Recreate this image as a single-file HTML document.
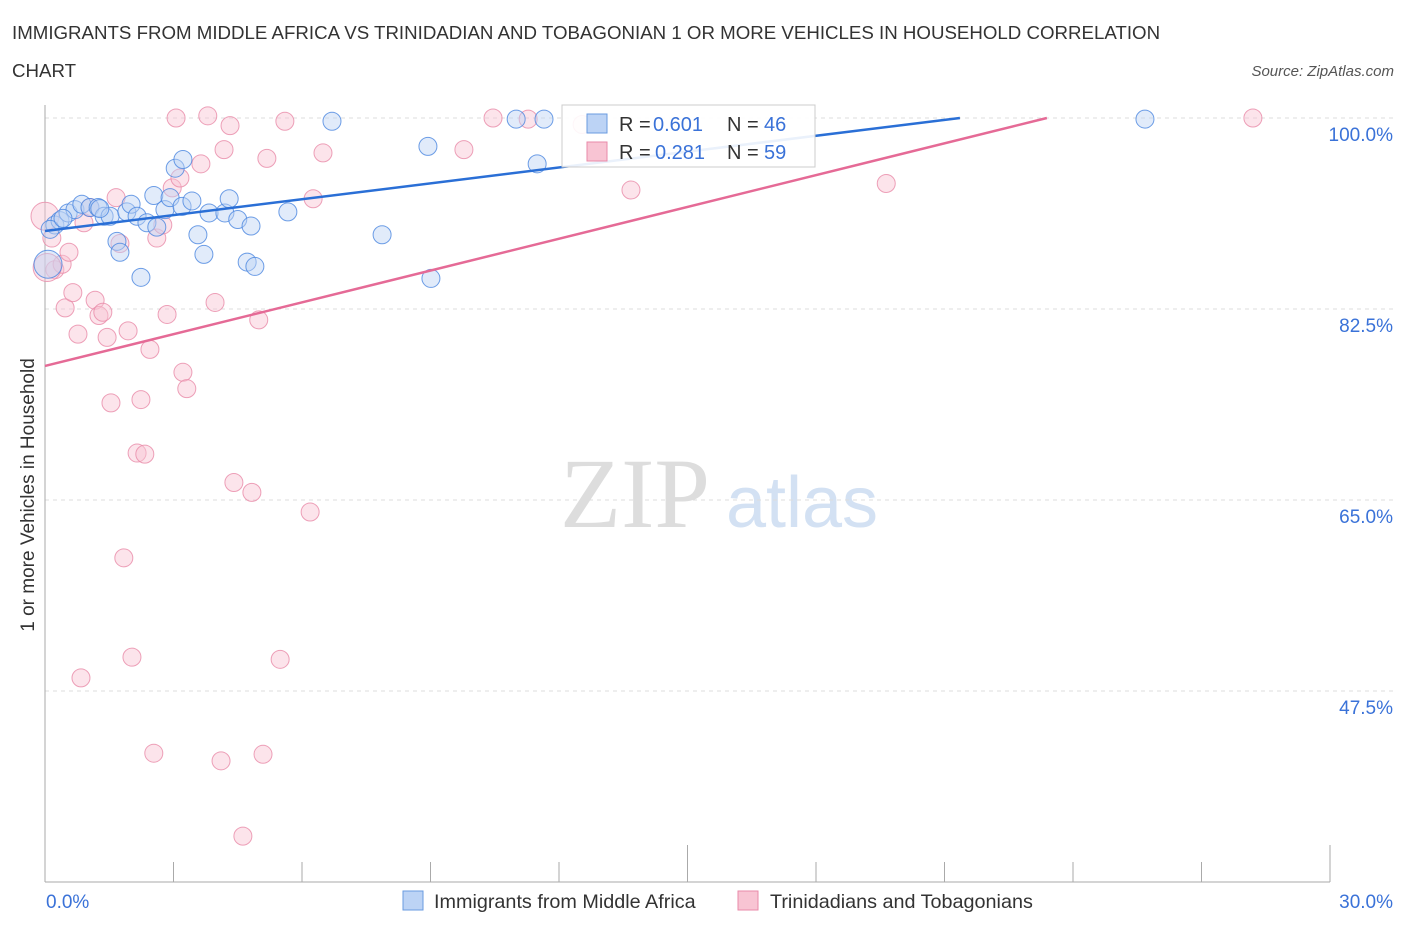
<!DOCTYPE html>
<html><head><meta charset="utf-8"><style>
body{margin:0;background:#fff;font-family:"Liberation Sans",sans-serif}
</style></head><body>
<svg id="c" width="1406" height="930" xmlns="http://www.w3.org/2000/svg" font-family="Liberation Sans, sans-serif">
<text x="12" y="39" font-size="18.7" fill="#333">IMMIGRANTS FROM MIDDLE AFRICA VS TRINIDADIAN AND TOBAGONIAN 1 OR MORE VEHICLES IN HOUSEHOLD CORRELATION</text>
<text x="12" y="77" font-size="18.7" fill="#333">CHART</text>
<text x="1394" y="76" font-size="15" font-style="italic" fill="#555" text-anchor="end">Source: ZipAtlas.com</text>
<text x="635" y="527" font-size="100" font-family="Liberation Serif, serif" fill="#ddd" text-anchor="middle">ZIP</text>
<text x="802" y="527" font-size="72" fill="#d3e1f3" text-anchor="middle">atlas</text>
<text transform="translate(34,495) rotate(-90)" font-size="19" fill="#333" text-anchor="middle">1 or more Vehicles in Household</text>
<g id="grid"></g><g id="pts"></g><g id="lines"></g>
<g>
<rect x="562" y="105" width="253" height="62" fill="#fff" fill-opacity="0.9" stroke="#ccc"/>
<rect x="587" y="114" width="20" height="19" fill="#bcd3f5" stroke="#6a9be0"/>
<rect x="587" y="142" width="20" height="19" fill="#f8c4d3" stroke="#e98aa8"/>
<text x="619" y="131" font-size="20" fill="#333">R =</text>
<text x="653" y="131" font-size="20" fill="#3a72d8">0.601</text>
<text x="727" y="131" font-size="20" fill="#333">N =</text>
<text x="764" y="131" font-size="20" fill="#3a72d8">46</text>
<text x="619" y="159" font-size="20" fill="#333">R =</text>
<text x="655" y="159" font-size="20" fill="#3a72d8">0.281</text>
<text x="727" y="159" font-size="20" fill="#333">N =</text>
<text x="764" y="159" font-size="20" fill="#3a72d8">59</text>
</g>
<g>
<rect x="403" y="891" width="20" height="19" fill="#bcd3f5" stroke="#6a9be0"/>
<text x="434" y="908" font-size="19.8" fill="#333">Immigrants from Middle Africa</text>
<rect x="738" y="891" width="20" height="19" fill="#f8c4d3" stroke="#e98aa8"/>
<text x="770" y="908" font-size="19.8" fill="#333">Trinidadians and Tobagonians</text>
</g>
</svg>
<script>
const yTicks=[100,82.5,65,47.5];
const yTickLabels=["100.0%","82.5%","65.0%","47.5%"];
const xTickLabels=["0.0%","30.0%"];
const blueX=[0.23,0.35,0.54,0.7,0.86,1.05,1.24,1.38,1.52,1.68,1.75,1.91,2.01,2.15,2.24,2.38,2.54,2.61,2.8,2.92,3.04,3.22,3.2,3.43,3.57,3.71,3.83,4.2,4.3,4.5,4.72,4.81,4.9,5.67,6.7,7.87,8.94,9.01,11.0,11.49,11.65,25.68,0.07,0.12,0.42,1.28];
const blueY=[90.2,90.6,91.3,91.6,92.1,91.8,91.8,91.0,91.0,88.7,87.7,91.4,92.1,91.0,85.4,90.4,92.9,90.0,91.6,92.7,95.4,96.2,91.9,92.4,89.3,87.5,91.3,91.3,92.6,90.7,86.8,90.1,86.4,91.4,99.7,89.3,97.4,85.3,99.9,95.8,99.9,99.9,86.6,89.8,90.8,91.7];
const pinkX=[0.0,0.23,0.16,0.4,0.47,0.56,0.65,0.77,0.91,1.05,1.17,1.26,1.35,1.45,1.54,1.66,1.75,1.84,1.94,2.03,2.15,2.24,2.33,2.45,2.54,2.61,2.75,2.85,2.97,3.06,3.15,3.22,3.31,3.64,3.8,3.97,4.11,4.18,4.32,4.41,4.62,4.83,4.99,5.09,5.18,5.49,5.6,6.19,6.26,6.49,0.84,9.78,10.46,11.28,12.54,13.68,19.64,28.2,0.05];
const pinkY=[91.0,86.1,89.0,86.6,82.6,87.7,84.0,80.2,90.4,91.8,83.3,81.9,82.2,79.9,73.9,92.7,88.5,59.7,80.5,50.6,69.3,74.2,69.2,78.8,41.8,89.0,90.2,82.0,93.6,100.0,94.5,76.7,75.2,95.8,100.2,83.1,41.1,97.1,99.3,66.6,34.2,65.7,81.5,41.7,96.3,50.4,99.7,63.9,92.6,96.8,48.7,97.1,100.0,99.9,99.4,93.4,94.0,100.0,86.3];
const blueLine=[[0,89.65],[21.36,100]];
const pinkLine=[[0,77.28],[23.39,100]];
const NS='http://www.w3.org/2000/svg';
const X=v=>45+v/30*1285, Y=v=>118+(100-v)*10.914;
function mk(t,a,p){const e=document.createElementNS(NS,t);for(const k in a)e.setAttribute(k,a[k]);document.getElementById(p).appendChild(e);return e;}
yTicks.forEach((t,i)=>{
 const l=mk('line',{x1:45,x2:1395,y1:Y(t),y2:Y(t),stroke:'#ddd','stroke-dasharray':'4,4'},'grid');
 
 
 const tx=mk('text',{x:1393,y:Y(t)+23,'font-size':19,fill:'#3a72d8','text-anchor':'end'},'grid');tx.textContent=yTickLabels[i];
 
 
});
mk('line',{x1:45,x2:45,y1:105,y2:882,stroke:'#aaa'},'grid');
mk('line',{x1:45,x2:1330,y1:882,y2:882,stroke:'#aaa'},'grid');
for(let i=0;i<=10;i++){const x=45+i*128.5;const t=mk('line',{x1:x,x2:x,y1:i%5==0?845:862,y2:882,stroke:'#aaa'},'grid');}
[[0,46,'start'],[1,1393,'end']].forEach(([i,x,a])=>{const t=mk('text',{x:x,y:908,'font-size':19,fill:'#3a72d8','text-anchor':a},'grid');t.textContent=xTickLabels[i];
 
 });
function pts(xs,ys,f,s,n){xs.forEach((v,i)=>{const r=(i==xs.length-1&&n=='pink')||(i==0&&n=='pink')||(i==42&&n=='blue')?14:9;
 const c=mk('circle',{cx:X(v),cy:Y(ys[i]),r:r,fill:f,'fill-opacity':0.45,stroke:s,'stroke-width':1,'stroke-opacity':0.8},'pts');
 
 });}
pts(pinkX,pinkY,'#f8c4d3','#e98aa8','pink');
pts(blueX,blueY,'#bcd3f5','#4a86e0','blue');
const bl=mk('line',{x1:X(blueLine[0][0]),y1:Y(blueLine[0][1]),x2:X(blueLine[1][0]),y2:Y(blueLine[1][1]),stroke:'#2a6fd6','stroke-width':2.5},'lines');


const pl=mk('line',{x1:X(pinkLine[0][0]),y1:Y(pinkLine[0][1]),x2:X(pinkLine[1][0]),y2:Y(pinkLine[1][1]),stroke:'#e56a96','stroke-width':2.5},'lines');


</script>
</body></html>
